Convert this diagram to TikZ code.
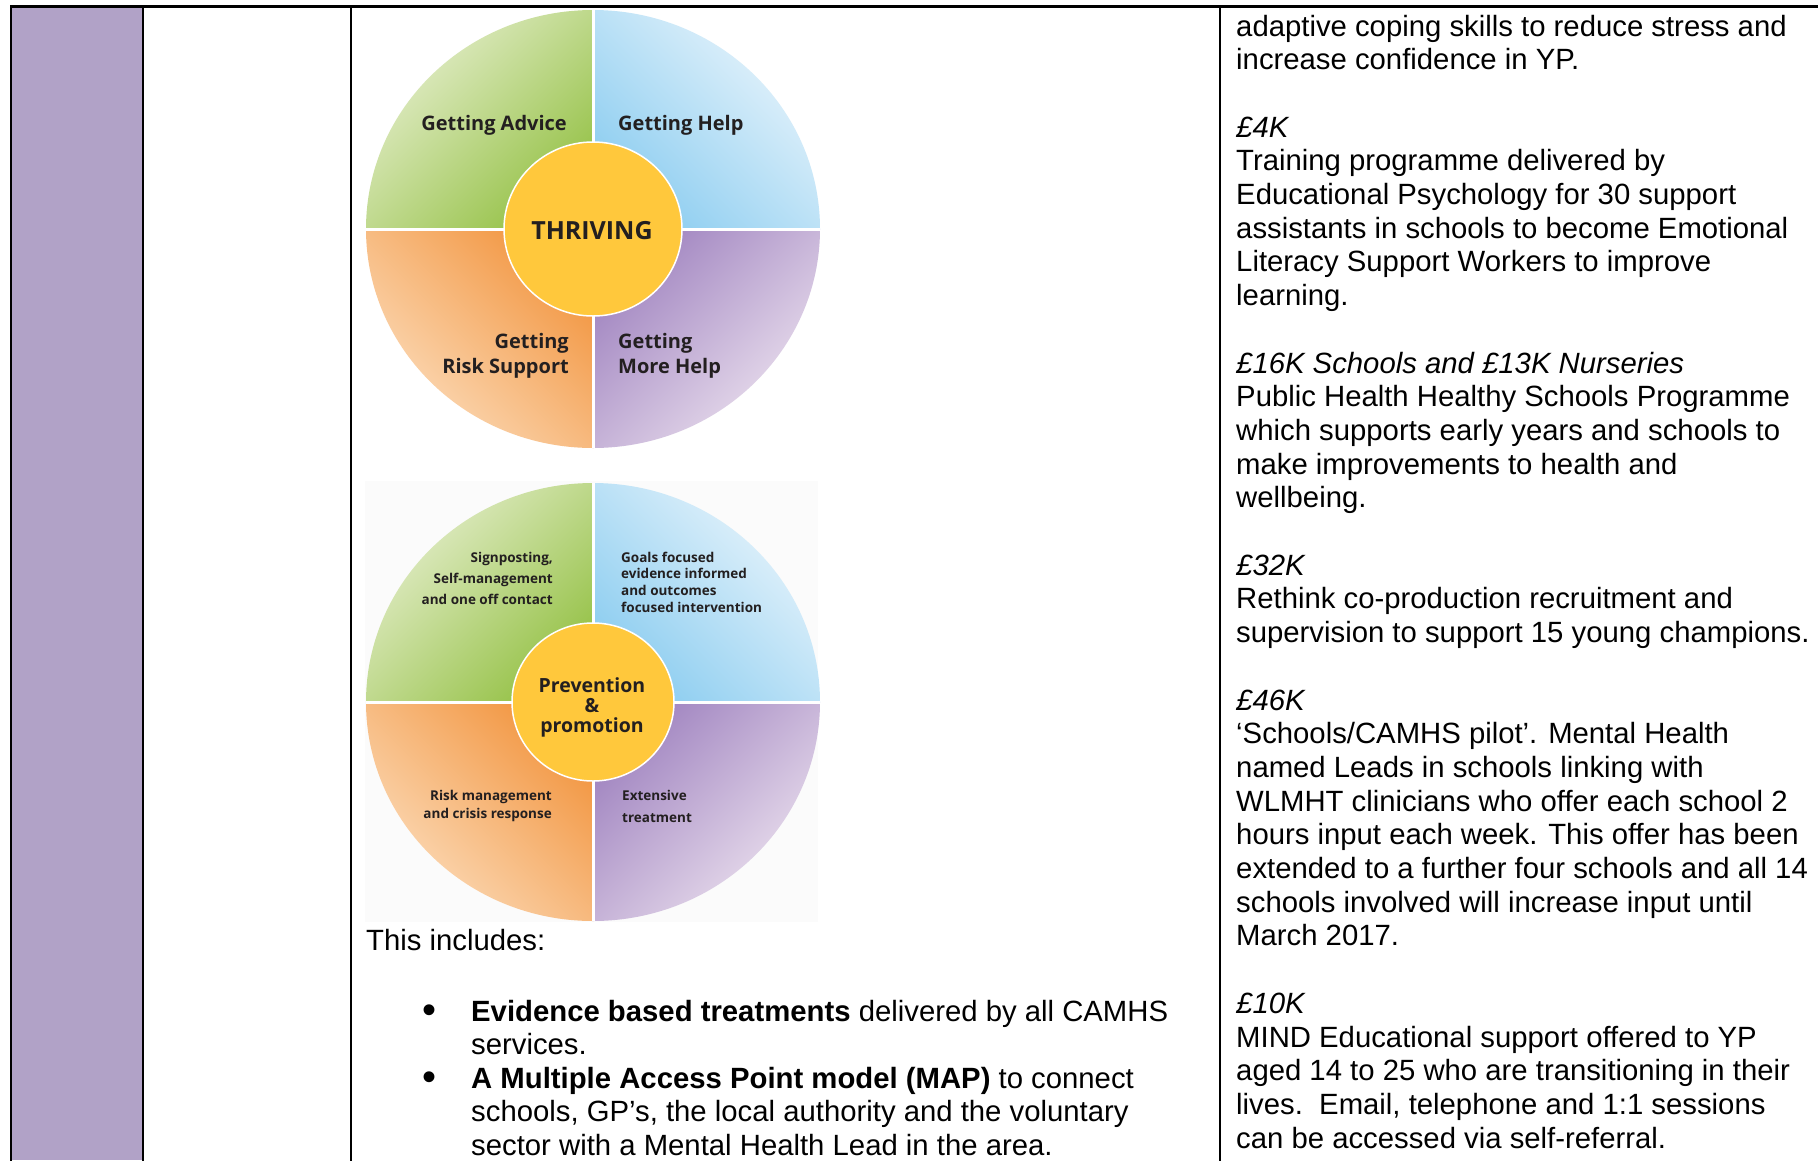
\documentclass[tikz,border=0pt]{standalone}
\usepackage{fontspec}
\setmainfont{Liberation Sans}
\newfontfamily\wheelfont{Open Sans}
\newcommand{\wsize}[2]{\wheelfont\bfseries\fontsize{#1}{#2}\selectfont}
\definecolor{ink}{RGB}{35,31,32}
\definecolor{lilac}{RGB}{177,162,199}
\definecolor{grnlt}{RGB}{231,239,208}
\definecolor{grndk}{RGB}{150,194,72}
\definecolor{blult}{RGB}{234,245,252}
\definecolor{bludk}{RGB}{140,205,240}
\definecolor{orglt}{RGB}{252,222,190}
\definecolor{orgdk}{RGB}{242,150,65}
\definecolor{purlt}{RGB}{238,228,240}
\definecolor{purdk}{RGB}{160,132,192}
\definecolor{sun}{RGB}{255,200,60}
\definecolor{paper}{RGB}{251,251,251}
\begin{document}
\begin{tikzpicture}[x=1pt,y=-1pt,
    rule/.style={line width=2.2pt,line cap=rect},
    wheel/.style={text=ink,inner sep=0pt},
    body/.style={font=\fontsize{29.3}{33.7}\selectfont,inner sep=0pt}]
  \useasboundingbox (0,0) rectangle (1818,1160);
  % table
  \fill[lilac] (11,6.5) rectangle (143,1160);
  \draw[rule] (11,1160) -- (11,6.5) -- (1818,6.5);
  \foreach \x in {143,351,1220}
  \draw[rule] (\x,6.5) -- (\x,1160);
  % the two wheels
  \fill[white] (365,7.6) rectangle (820,452);
  \fill[paper] (365,481) rectangle (818,922);
  \foreach \cy/\ri in {229/89,702/81} {
    \shade[top color=grnlt,bottom color=grndk,shading angle=45] (593,\cy) -- ++(-227,0)
      arc[start angle=180,end angle=270,x radius=227,y radius=219] -- cycle;
    \shade[top color=blult,bottom color=bludk,shading angle=-45] (593,\cy) -- ++(0,-219)
      arc[start angle=270,end angle=360,x radius=227,y radius=219] -- cycle;
    \shade[top color=purdk,bottom color=purlt,shading angle=45] (593,\cy) -- ++(227,0)
      arc[start angle=0,end angle=90,x radius=227,y radius=219] -- cycle;
    \shade[top color=orgdk,bottom color=orglt,shading angle=-45] (593,\cy) -- ++(0,219)
      arc[start angle=90,end angle=180,x radius=227,y radius=219] -- cycle;
    \draw[white,line width=3pt] (366,\cy) -- (820,\cy) (593,\cy-219) -- (593,\cy+219);
    \fill[sun,draw=white,line width=1.5pt] (593,\cy) ellipse [x radius=\ri,y radius=\ri-2];
  }
  \node[wheel,font=\wsize{20}{25},anchor=base east] (advice) at (567,130) {Getting Advice};
  \node[wheel,font=\wsize{20}{25},anchor=base west] (help) at (618,130) {Getting Help};
  \node[wheel,font=\wsize{25}{30},anchor=base] (thriving) at (592,239) {THRIVING};
  \node[wheel,font=\wsize{20}{25},anchor=base east] (risk) at (569,348)
    {\parbox[t]{160pt}{\raggedleft Getting\\Risk Support}};
  \node[wheel,font=\wsize{20}{25},anchor=base west] (morehelp) at (618,348)
    {\parbox[t]{160pt}{\raggedright Getting\\More Help}};
  \node[wheel,font=\wsize{13.5}{21},anchor=base east] (signpost) at (553,562)
    {\parbox[t]{160pt}{\raggedleft Signposting,\\Self-management\\and one off contact}};
  \node[wheel,font=\wsize{13.5}{16.7},anchor=base west] (goals) at (621,562)
    {\parbox[t]{170pt}{\raggedright Goals focused\\evidence informed\\and outcomes\\focused intervention}};
  \node[wheel,font=\wsize{19.5}{20},anchor=base] (prevent) at (592,692)
    {\parbox[t]{120pt}{\centering Prevention\\\&\\promotion}};
  \node[wheel,font=\wsize{13.5}{18},anchor=base east] (crisis) at (552,800)
    {\parbox[t]{160pt}{\raggedleft Risk management\\and crisis response}};
  \node[wheel,font=\wsize{13.5}{22},anchor=base west] (extensive) at (622,800)
    {\parbox[t]{160pt}{\raggedright Extensive\\treatment}};
  % middle column text
  \node[body,anchor=base west] (incl) at (366,950) {This includes:};
  \foreach \b/\n in {1021/1,1088/2}
  \node[body,font=\fontsize{40}{40}\selectfont,anchor=base] (bullet\n) at (429,\b+2) {\textbullet};
  \node[body,anchor=base west] (item1) at (471,1021) {\parbox[t]{720pt}{\raggedright
    \textbf{Evidence based treatments} delivered by all CAMHS\\services.}};
  \node[body,anchor=base west] (item2) at (471,1088) {\parbox[t]{720pt}{\raggedright
    \textbf{A Multiple Access Point model (MAP)} to connect\\
    schools, GP’s, the local authority and the voluntary\\
    sector with a Mental Health Lead in the area.}};
  % right column text
  \node[body,anchor=base west] (funds) at (1236,36) {\parbox[t]{600pt}{\raggedright
    \setlength{\parskip}{33.7pt}%
    adaptive coping skills to reduce stress and\\
    increase confidence in YP.\par
    \textit{£4K}\\
    Training programme delivered by\\
    Educational Psychology for 30 support\\
    assistants in schools to become Emotional\\
    Literacy Support Workers to improve\\
    learning.\par
    \textit{£16K Schools and £13K Nurseries}\\
    Public Health Healthy Schools Programme\\
    which supports early years and schools to\\
    make improvements to health and\\
    wellbeing.\par
    \textit{£32K}\\
    Rethink co-production recruitment and\\
    supervision to support 15 young champions.\par
    \textit{£46K}\\
    ‘Schools/CAMHS pilot’. Mental Health\\
    named Leads in schools linking with\\
    WLMHT clinicians who offer each school 2\\
    hours input each week. This offer has been\\
    extended to a further four schools and all 14\\
    schools involved will increase input until\\
    March 2017.\par
    \textit{£10K}\\
    MIND Educational support offered to YP\\
    aged 14 to 25 who are transitioning in their\\
    lives.\ \ Email, telephone and 1:1 sessions\\
    can be accessed via self-referral.}};
\end{tikzpicture}
\end{document}
